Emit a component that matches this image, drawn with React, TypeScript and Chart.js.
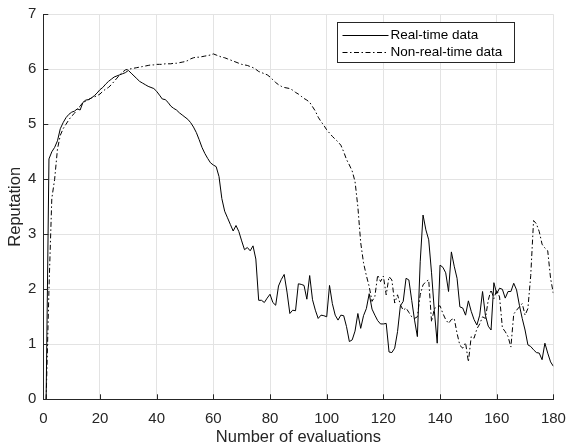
import React, { useEffect, useRef } from "react";
import { Chart, registerables } from "chart.js";

Chart.register(...registerables);

const xTickValues = [0, 20, 40, 60, 80, 100, 120, 140, 160, 180];
const yTickValues = [0, 1, 2, 3, 4, 5, 6, 7];
const seriesLabels = ["Real-time data", "Non-real-time data"];

// evaluation index 1..180
const realTime = [
  0, 4.37, 4.5, 4.58, 4.7, 4.92, 5.03, 5.12, 5.18, 5.22,
  5.24, 5.28, 5.26, 5.4, 5.44, 5.45, 5.48, 5.52, 5.57, 5.63,
  5.67, 5.73, 5.78, 5.82, 5.86, 5.88, 5.9, 5.92, 5.94, 5.98,
  5.93, 5.88, 5.83, 5.78, 5.75, 5.72, 5.69, 5.67, 5.65, 5.6,
  5.53, 5.46, 5.45, 5.4, 5.33, 5.29, 5.26, 5.21, 5.17, 5.13,
  5.09, 5.03, 4.95, 4.85, 4.72, 4.58, 4.47, 4.38, 4.3, 4.26,
  4.23, 4.05, 3.65, 3.42, 3.3, 3.18, 3.06, 3.16, 3.05, 2.88,
  2.72, 2.76, 2.7, 2.79, 2.55, 1.8, 1.8, 1.76, 1.84, 1.91,
  1.76, 1.71, 2.06, 2.18, 2.27, 1.95, 1.56, 1.62, 1.61, 2.1,
  2.09, 2.07, 1.82, 2.25, 1.81, 1.62, 1.47, 1.53, 1.52, 1.5,
  2.07, 1.74, 1.53, 1.44, 1.53, 1.52, 1.32, 1.05, 1.08, 1.24,
  1.56, 1.29, 1.52, 1.65, 1.92, 1.64, 1.53, 1.43, 1.37, 1.37,
  1.38, 0.86, 0.85, 0.93, 1.23, 1.7, 1.78, 2.2, 2.17, 1.8,
  1.44, 1.14, 2.5, 3.35, 3.08, 2.9, 2.3, 1.6, 1.02, 2.44,
  2.4, 2.3, 1.96, 2.68, 2.42, 2.2, 1.68, 1.66, 1.53, 1.79,
  1.6, 1.45, 1.35, 1.53, 1.96, 1.53, 1.33, 1.26, 2.12, 1.92,
  2.02, 2.0, 1.84, 1.96, 1.96, 2.11, 1.99, 1.71, 1.47, 1.26,
  0.99, 0.96, 0.9, 0.85, 0.84, 0.72, 1.02, 0.84, 0.68, 0.6,
];

const nonRealTime = [
  0, 2.0, 3.65, 4.0, 4.55, 4.8, 4.92, 5.0, 5.08, 5.15,
  5.2, 5.28, 5.33, 5.4, 5.42, 5.45, 5.48, 5.5, 5.52, 5.55,
  5.6, 5.64, 5.67, 5.72, 5.78, 5.84, 5.9, 5.95, 5.99, 6.0,
  6.01, 6.02, 6.03, 6.04, 6.05, 6.06, 6.07, 6.08, 6.08, 6.09,
  6.09, 6.09, 6.1, 6.1, 6.1, 6.11, 6.11, 6.12, 6.13, 6.14,
  6.16, 6.19, 6.21, 6.22, 6.22, 6.23, 6.24, 6.25, 6.26, 6.28,
  6.26, 6.24, 6.22, 6.21, 6.19, 6.17, 6.15, 6.13, 6.11, 6.09,
  6.08, 6.07, 6.05, 6.03, 6.0, 5.96, 5.94, 5.92, 5.9, 5.86,
  5.81, 5.76, 5.72, 5.69, 5.67, 5.66, 5.65, 5.62, 5.58, 5.55,
  5.51, 5.47, 5.44, 5.4, 5.32, 5.24, 5.13, 5.05, 4.98, 4.9,
  4.84, 4.78, 4.73, 4.68, 4.62, 4.5, 4.36, 4.26, 4.15, 3.96,
  3.5, 2.85, 2.48, 2.25, 2.05, 1.78, 1.87, 2.26, 2.14, 2.24,
  1.9, 2.23, 2.17, 1.75, 1.9, 1.72, 1.62, 1.66, 1.58, 1.5,
  1.47, 1.5, 1.9, 2.08, 2.14, 2.17, 1.41, 1.65, 1.68, 1.7,
  1.56, 1.45, 1.38, 1.45, 1.47, 1.2, 0.98, 0.93, 1.03, 0.68,
  1.14, 1.11, 1.28, 1.37, 1.5, 1.47, 1.8, 1.99, 1.83, 1.99,
  1.86, 1.3, 1.23, 1.14, 0.95, 1.55, 1.62, 1.68, 1.74, 1.53,
  1.65, 2.25, 3.25, 3.19, 3.05, 2.82, 2.75, 2.7, 2.2, 1.92,
];

const evaluations = realTime.map((_, i) => i + 1);

const FONT = "'Liberation Sans', Arial, Helvetica, sans-serif";
const AXIS_COLOR = "#262626";
const GRID_COLOR = "#e3e3e3";
const DASH_DOT = [5, 2.5, 1.5, 2.5];

const innerTicksPlugin = {
  id: "innerTicks",
  afterDraw(chart: any) {
    const ctx = chart.ctx;
    const xs = chart.scales.x;
    const ys = chart.scales.y;
    const area = chart.chartArea;
    ctx.save();
    ctx.strokeStyle = AXIS_COLOR;
    ctx.lineWidth = 1;
    ctx.beginPath();
    xTickValues.forEach((v) => {
      const px = Math.round(xs.getPixelForValue(v)) + 0.5;
      ctx.moveTo(px, area.bottom);
      ctx.lineTo(px, area.bottom - 5);
    });
    yTickValues.forEach((v) => {
      const py = Math.round(ys.getPixelForValue(v)) + 0.5;
      ctx.moveTo(area.left, py);
      ctx.lineTo(area.left + 5, py);
    });
    ctx.stroke();
    ctx.restore();
  },
};

const boxLegendPlugin = {
  id: "boxLegend",
  afterDraw(chart: any) {
    const ctx = chart.ctx;
    const area = chart.chartArea;
    const boxRight = Math.round(area.right - 39.5) + 0.5;
    const boxLeft = boxRight - 177;
    const boxTop = Math.round(area.top + 7.5) + 0.5;
    const boxH = 40;
    ctx.save();
    ctx.fillStyle = "#ffffff";
    ctx.fillRect(boxLeft, boxTop, boxRight - boxLeft, boxH);
    ctx.strokeStyle = AXIS_COLOR;
    ctx.lineWidth = 1;
    ctx.strokeRect(boxLeft, boxTop, boxRight - boxLeft, boxH);
    ctx.font = `13.5px ${FONT}`;
    ctx.textBaseline = "middle";
    ctx.fillStyle = "#000000";
    chart.data.datasets.forEach((ds: any, i: number) => {
      const y = Math.round(boxTop + 12 + i * 17) + 0.5;
      ctx.strokeStyle = ds.borderColor;
      ctx.lineWidth = 1;
      ctx.setLineDash(ds.borderDash || []);
      ctx.beginPath();
      ctx.moveTo(boxLeft + 5, y);
      ctx.lineTo(boxLeft + 51, y);
      ctx.stroke();
      ctx.setLineDash([]);
      ctx.fillText(ds.label, boxLeft + 53, y);
    });
    ctx.restore();
  },
};

export default function App() {
  const canvasRef = useRef<HTMLCanvasElement | null>(null);

  useEffect(() => {
    if (!canvasRef.current) return;
    const chart = new Chart(canvasRef.current, {
      type: "line",
      data: {
        datasets: [
          {
            label: seriesLabels[0],
            data: evaluations.map((x, i) => ({ x, y: realTime[i] })),
            borderColor: "#000000",
            borderWidth: 1,
            pointRadius: 0,
            tension: 0,
            fill: false,
          },
          {
            label: seriesLabels[1],
            data: evaluations.map((x, i) => ({ x, y: nonRealTime[i] })),
            borderColor: "#000000",
            borderWidth: 1,
            borderDash: DASH_DOT,
            pointRadius: 0,
            tension: 0,
            fill: false,
          },
        ],
      },
      options: {
        animation: false,
        responsive: false,
        devicePixelRatio: 1,
        layout: { padding: { left: 0, right: 13.6, top: 14.3, bottom: 0 } },
        plugins: {
          legend: { display: false },
          tooltip: { enabled: false },
        },
        scales: {
          x: {
            type: "linear",
            min: 0,
            max: 180,
            afterBuildTicks: (s: any) => {
              s.ticks = xTickValues.map((v) => ({ value: v }));
            },
            afterFit: (s: any) => {
              s.height = 48.7;
              s.paddingLeft = 0;
              s.paddingRight = 0;
            },
            ticks: {
              color: AXIS_COLOR,
              font: { family: FONT, size: 15 },
              padding: 11,
              maxRotation: 0,
            },
            grid: { color: GRID_COLOR, drawTicks: false, lineWidth: 1 },
            border: { color: AXIS_COLOR, width: 1 },
            title: {
              display: true,
              text: "Number of evaluations",
              color: AXIS_COLOR,
              font: { family: FONT, size: 16.5 },
              padding: { top: 0, bottom: 1 },
            },
          },
          y: {
            type: "linear",
            min: 0,
            max: 7,
            afterBuildTicks: (s: any) => {
              s.ticks = yTickValues.map((v) => ({ value: v }));
            },
            afterFit: (s: any) => {
              s.width = 43.3;
              s.paddingTop = 0;
              s.paddingBottom = 0;
            },
            ticks: {
              color: AXIS_COLOR,
              font: { family: FONT, size: 15 },
              padding: 7,
            },
            grid: { color: GRID_COLOR, drawTicks: false, lineWidth: 1 },
            border: { color: AXIS_COLOR, width: 1 },
            title: {
              display: true,
              text: "Reputation",
              color: AXIS_COLOR,
              font: { family: FONT, size: 16.5 },
              padding: { top: 6, bottom: 0 },
            },
          },
        },
      },
      plugins: [innerTicksPlugin, boxLegendPlugin],
    });
    return () => chart.destroy();
  }, []);

  return (
    <div style={{ position: "absolute", left: 0, top: 0, width: 567, height: 448, background: "#fff" }}>
      <canvas ref={canvasRef} width={567} height={448} style={{ display: "block" }} />
    </div>
  );
}
